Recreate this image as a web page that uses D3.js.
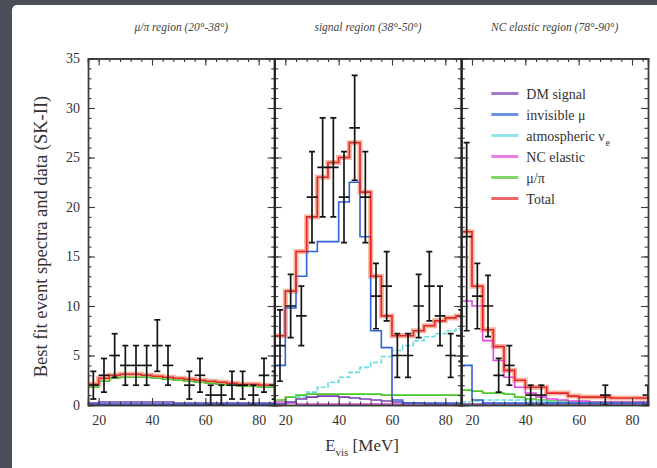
<!DOCTYPE html>
<html>
<head>
<meta charset="utf-8">
<script src="https://cdn.jsdelivr.net/npm/d3@7"></script>
<style>
  html, body { margin: 0; padding: 0; overflow: hidden; background: #ffffff; }
  svg { display: block; }
</style>
</head>
<body>
<div id="chart"></div>
<script>
// bins (MeV)
const binEdges = [16, 20, 24, 28, 32, 36, 40, 44, 48, 52, 56, 60, 64, 68, 72, 76, 80, 84, 88];
const binCenters = [18, 22, 26, 30, 34, 38, 42, 46, 50, 54, 58, 62, 66, 70, 74, 78, 82, 86];
const xTicks = [20, 40, 60, 80];
const yTicks = [0, 5, 10, 15, 20, 25, 30, 35];
const panelTitles = ['μ/π region (20°-38°)', 'signal region (38°-50°)', 'NC elastic region (78°-90°)'];

// data per panel: [mu/pi region, signal region, NC elastic region]
const dataCounts = [
    [2, 3, 5, 4, 4, 4, 6, 4, 0, 2, 3, 1, 1, 2, 2, 1, 3, 2],
    [6, 10, 9, 21, 24, 24, 21, 28, 21, 11, 12, 5, 5, 10, 12, 9, 5, 7],
    [17, 11, 10, 3, 4, 0, 1, 1, 0, 0, 0, 0, 0, 1, 0, 0, 0, 1]
];
const dataErrors = [
    [1.4, 1.7, 2.2, 2, 2, 2, 2.6, 2, 0, 1.4, 1.7, 1, 1, 1.4, 1.4, 1, 1.7, 1.4],
    [3.6, 3.2, 3, 4.6, 5, 5, 4.6, 5.3, 4.6, 3.3, 3.5, 2.2, 2.2, 3.2, 3.5, 3, 2.2, 2.6],
    [9.5, 3.3, 3.1, 1.7, 2, 0, 1, 1, 0, 0, 0, 0, 0, 1, 0, 0, 0, 1]
];

// best fit spectra
const dmSignal = [
    [0.2, 0.3, 0.3, 0.3, 0.3, 0.3, 0.3, 0.3, 0.2, 0.2, 0.2, 0.2, 0.2, 0.2, 0.2, 0.2, 0.2, 0.2],
    [0.1, 0.3, 0.6, 0.8, 0.9, 0.9, 0.8, 0.7, 0.6, 0.5, 0.4, 0.3, 0.2, 0.2, 0.1, 0.1, 0.1, 0.1],
    [0.1, 0.1, 0.1, 0.1, 0.1, 0.1, 0.1, 0.1, 0.1, 0.1, 0.1, 0.1, 0.1, 0.1, 0.1, 0.1, 0.1, 0.1]
];
const invisibleMu = [
    [0.1, 0.1, 0.1, 0.1, 0.1, 0.1, 0.1, 0.1, 0.1, 0.1, 0.1, 0.1, 0.1, 0.1, 0.1, 0.1, 0.1, 0.1],
    [4, 9.8, 13, 15.5, 16.5, 16.5, 20.5, 22.5, 17, 7.5, 5.8, 0.5, 0.2, 0.2, 0.2, 0.2, 0.2, 0.2],
    [4, 0.5, 0.2, 0.2, 0.2, 0.2, 0.2, 0.2, 0.2, 0.2, 0.2, 0.2, 0.2, 0.2, 0.2, 0.2, 0.2, 0.2]
];
const atmNuE = [
    [0.05, 0.05, 0.05, 0.05, 0.05, 0.05, 0.05, 0.05, 0.05, 0.05, 0.05, 0.05, 0.05, 0.05, 0.05, 0.05, 0.05, 0.05],
    [0.1, 0.3, 0.8, 1.3, 1.8, 2.3, 2.8, 3.3, 3.8, 4.3, 4.9, 5.5, 6.0, 6.5, 6.9, 7.2, 7.5, 7.7],
    [0.3, 0.4, 0.5, 0.5, 0.5, 0.5, 0.4, 0.4, 0.3, 0.3, 0.3, 0.3, 0.2, 0.2, 0.2, 0.2, 0.2, 0.2]
];
const ncElastic = [
    [0.05, 0.05, 0.05, 0.05, 0.05, 0.05, 0.05, 0.05, 0.05, 0.05, 0.05, 0.05, 0.05, 0.05, 0.05, 0.05, 0.05, 0.05],
    [0.3, 0.2, 0.1, 0.1, 0.1, 0.1, 0.1, 0.1, 0.1, 0.1, 0.1, 0.1, 0.1, 0.1, 0.1, 0.1, 0.1, 0.1],
    [10.5, 10, 6.5, 4.5, 2.8, 1.8, 1.2, 0.8, 0.6, 0.5, 0.4, 0.4, 0.3, 0.3, 0.3, 0.3, 0.3, 0.3]
];
const muPi = [
    [1.8, 2.4, 2.7, 2.8, 2.8, 2.8, 2.7, 2.6, 2.5, 2.4, 2.3, 2.2, 2.1, 2.0, 1.9, 1.9, 1.8, 1.8],
    [0.5, 0.8, 1.0, 1.1, 1.1, 1.1, 1.1, 1.1, 1.1, 1.1, 1.0, 1.0, 1.0, 1.0, 1.0, 1.0, 1.0, 1.0],
    [1.5, 1.4, 1.2, 1.2, 1.1, 0.8, 0.6, 0.5, 0.4, 0.4, 0.3, 0.3, 0.3, 0.3, 0.3, 0.3, 0.3, 0.3]
];
const totalFit = [
    [2.1, 2.7, 3.0, 3.1, 3.1, 3.0, 2.9, 2.8, 2.7, 2.6, 2.5, 2.4, 2.3, 2.2, 2.1, 2.1, 2.0, 2.0],
    [7, 11.5, 15.5, 19, 23, 24.5, 25, 26.5, 21.5, 13, 9, 7, 7, 7.5, 8, 8.5, 8.8, 9],
    [17.5, 12, 7.6, 5.9, 3.5, 2.5, 1.8, 1.8, 1.2, 1.2, 0.9, 0.8, 0.8, 0.8, 0.7, 0.7, 0.7, 0.7]
];

const series = [
    {name: 'DM signal', values: dmSignal, color: '#7a3fb0'},
    {name: 'invisible μ', values: invisibleMu, color: '#2f62d8'},
    {name: 'atmospheric ν', sub: 'e', values: atmNuE, color: '#62dde0'},
    {name: 'NC elastic', values: ncElastic, color: '#e04ae0'},
    {name: 'μ/π', values: muPi, color: '#4cc62a'},
    {name: 'Total', values: totalFit, color: '#e3262a'}
];

const dimensions = {
    width: 657,
    height: 468,
    margin: {top: 58.5, right: 9, bottom: 63, left: 88}
};
dimensions.boundWidth = dimensions.width - dimensions.margin.left - dimensions.margin.right;
dimensions.boundHeight = dimensions.height - dimensions.margin.top - dimensions.margin.bottom;
const panelWidth = dimensions.boundWidth / 3;

const serif = '"Liberation Serif", "DejaVu Serif", serif';

const root = d3.select('#chart')
    .append('svg')
    .attr('width', dimensions.width)
    .attr('height', dimensions.height);

// dark strips on the left and top edges, white card elsewhere
root.append('rect')
    .attr('width', dimensions.width).attr('height', dimensions.height)
    .attr('fill', '#4b4f57');
root.append('rect')
    .attr('x', 12).attr('y', 5)
    .attr('width', dimensions.width + 60).attr('height', dimensions.height + 60)
    .attr('rx', 5)
    .attr('fill', '#ffffff');

const svg = root.append('g')
    .attr('transform', `translate(${dimensions.margin.left},${dimensions.margin.top})`);

const y = d3.scaleLinear().domain([0, 35]).range([dimensions.boundHeight, 0]);

const stepLine = (x) => d3.line()
    .x(d => x(d[0]))
    .y(d => y(d[1]))
    .curve(d3.curveStepAfter);

const stepPoints = (values) => binEdges.map((e, j) => [e, values[Math.min(j, values.length - 1)]]);

for (let p = 0; p < 3; p++) {
    const x = d3.scaleLinear().domain([16, 86]).range([0, panelWidth]);
    const panel = svg.append('g').attr('transform', `translate(${p * panelWidth},0)`);

    panel.append('clipPath').attr('id', `clip${p}`)
        .append('rect').attr('width', panelWidth).attr('height', dimensions.boundHeight);
    const plot = panel.append('g').attr('clip-path', `url(#clip${p})`);

    // total band underneath
    plot.append('path')
        .attr('d', stepLine(x)(stepPoints(totalFit[p])))
        .attr('fill', 'none')
        .attr('stroke', '#f39a7c')
        .attr('stroke-width', 5)
        .attr('opacity', 0.75);

    // components
    const drawOrder = [4, 2, 3, 0, 1];
    drawOrder.forEach(k => {
        const s = series[k];
        plot.append('path')
            .attr('d', stepLine(x)(stepPoints(s.values[p])))
            .attr('fill', 'none')
            .attr('stroke', s.color)
            .attr('stroke-width', 1.6)
            .attr('stroke-dasharray', k === 2 ? '5,2' : null);
    });

    // total line
    plot.append('path')
        .attr('d', stepLine(x)(stepPoints(totalFit[p])))
        .attr('fill', 'none')
        .attr('stroke', '#e3262a')
        .attr('stroke-width', 1.6);

    // data points with error bars
    const pts = binCenters.map((c, j) => ({c, v: dataCounts[p][j], e: dataErrors[p][j]}))
        .filter(d => d.v > 0);
    const dg = plot.append('g').attr('stroke', '#151515').attr('stroke-width', 1.7);
    pts.forEach(d => {
        const cx = x(d.c);
        dg.append('line').attr('x1', x(d.c - 2)).attr('x2', x(d.c + 2)).attr('y1', y(d.v)).attr('y2', y(d.v));
        dg.append('line').attr('x1', cx).attr('x2', cx).attr('y1', y(d.v - d.e)).attr('y2', y(d.v + d.e));
        dg.append('line').attr('x1', cx - 3).attr('x2', cx + 3).attr('y1', y(d.v + d.e)).attr('y2', y(d.v + d.e));
        dg.append('line').attr('x1', cx - 3).attr('x2', cx + 3).attr('y1', y(d.v - d.e)).attr('y2', y(d.v - d.e));
    });

    // frame ticks, pointing inward
    const axisStyle = g => {
        g.select('.domain').attr('stroke', '#3a3a3a').attr('stroke-width', 1.4);
        g.selectAll('.tick line').attr('stroke', '#3a3a3a').attr('stroke-width', 1.1);
        g.selectAll('text').attr('font-family', serif).attr('font-size', 14).attr('fill', '#333');
    };
    const yMinor = y.ticks(35);
    const xMinor = binEdges.filter(e => e <= 86);

    panel.append('g').call(d3.axisLeft(y).tickValues(yMinor).tickSize(-3.5).tickFormat('')).call(axisStyle);
    panel.append('g').call(d3.axisLeft(y).tickValues(yTicks).tickSize(-7).tickPadding(8)
        .tickFormat(p === 0 ? d3.format('d') : '')).call(axisStyle);
    panel.append('g').attr('transform', `translate(${panelWidth},0)`)
        .call(d3.axisRight(y).tickValues(yMinor).tickSize(-3.5).tickFormat('')).call(axisStyle);
    panel.append('g').attr('transform', `translate(${panelWidth},0)`)
        .call(d3.axisRight(y).tickValues(yTicks).tickSize(-7).tickFormat('')).call(axisStyle);
    panel.append('g').call(d3.axisTop(x).tickValues(xMinor).tickSize(-3.5).tickFormat('')).call(axisStyle);
    panel.append('g').call(d3.axisTop(x).tickValues(xTicks).tickSize(-7).tickFormat('')).call(axisStyle);
    panel.append('g').attr('transform', `translate(0,${dimensions.boundHeight})`)
        .call(d3.axisBottom(x).tickValues(xMinor).tickSize(-3.5).tickFormat('')).call(axisStyle);
    panel.append('g').attr('transform', `translate(0,${dimensions.boundHeight})`)
        .call(d3.axisBottom(x).tickValues(xTicks).tickSize(-7).tickPadding(10).tickFormat(d3.format('d')))
        .call(axisStyle);

    // panel title
    panel.append('text')
        .attr('x', panelWidth / 2)
        .attr('y', -28)
        .attr('text-anchor', 'middle')
        .attr('font-family', serif)
        .attr('font-style', 'italic')
        .attr('font-size', 11.5)
        .attr('fill', '#444')
        .text(panelTitles[p]);
}

// heavier panel separators
[1, 2].forEach(i => {
    svg.append('line')
        .attr('x1', i * panelWidth).attr('x2', i * panelWidth)
        .attr('y1', 0).attr('y2', dimensions.boundHeight)
        .attr('stroke', '#222').attr('stroke-width', 2);
});

// legend in the NC elastic panel
const legend = svg.append('g').attr('transform', `translate(${2 * panelWidth + 30},${35})`);
series.forEach((s, i) => {
    const row = legend.append('g').attr('transform', `translate(0,${i * 21})`);
    row.append('line')
        .attr('x1', 0).attr('x2', 27).attr('y1', 0).attr('y2', 0)
        .attr('stroke', s.color).attr('stroke-width', 3).attr('opacity', 0.7);
    const t = row.append('text')
        .attr('x', 35).attr('y', 5)
        .attr('font-family', serif).attr('font-size', 14).attr('fill', '#333')
        .text(s.name);
    if (s.sub) {
        t.append('tspan').attr('dy', 5).attr('dx', 1).attr('font-size', 10).text(s.sub);
    }
});

// axis titles
root.append('text')
    .attr('transform', `translate(47,${dimensions.margin.top + 178}) rotate(-90)`)
    .attr('text-anchor', 'middle')
    .attr('font-family', serif)
    .attr('font-size', 18.5)
    .attr('fill', '#333')
    .text('Best fit event spectra and data (SK-II)');

const xLabel = root.append('text')
    .attr('x', dimensions.margin.left + dimensions.boundWidth / 2 - 6)
    .attr('y', 451)
    .attr('text-anchor', 'middle')
    .attr('font-family', serif)
    .attr('font-size', 17)
    .attr('fill', '#333');
xLabel.append('tspan').text('E');
xLabel.append('tspan').attr('dy', 5).attr('font-size', 11).text('vis');
xLabel.append('tspan').attr('dy', -5).text(' [MeV]');
</script>
</body>
</html>
